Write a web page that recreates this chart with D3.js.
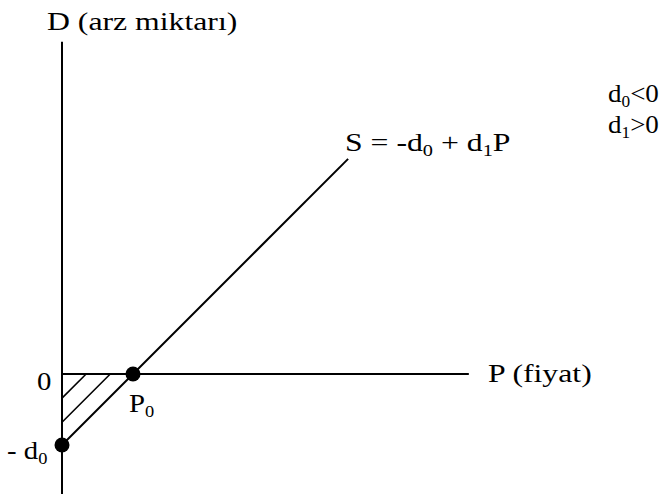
<!DOCTYPE html>
<html><head><meta charset="utf-8">
<script src="https://cdn.jsdelivr.net/npm/d3@7"></script>
<style>
html,body{margin:0;padding:0;background:#fff;}
</style></head>
<body><svg id="c" width="670" height="495"></svg>
<script>
// Data (in model units)
const d0 = -1;          // intercept value -d0 on the D axis
const d1 = 1;           // slope
const P0 = 1;           // price where supply is zero
const pAxis = [0, 5.73];
const dAxis = [-1.69, 4.68];
const sLineP = [0, 4.03];
const hatchOffsets = [0.34, 0.68];
const labels = {yTitle:"D (arz miktarı)", xTitle:"P (fiyat)", zero:"0"};

const svg = d3.select("#c");
const x = d3.scaleLinear().domain([0, 1]).range([62, 133]);
const y = d3.scaleLinear().domain([0, 1]).range([374, 303]);
const S = p => d0 + d1 * p;
const line = d3.line().x(d => x(d[0])).y(d => y(d[1]));

// axes
svg.append("path").attr("d", line([[0, dAxis[0]], [0, dAxis[1]]]))
  .attr("stroke", "#000").attr("stroke-width", 2).attr("fill", "none");
svg.append("path").attr("d", line([[pAxis[0], 0], [pAxis[1], 0]]))
  .attr("stroke", "#000").attr("stroke-width", 2).attr("fill", "none");

// hatch
hatchOffsets.forEach(h => {
  svg.append("path").attr("d", line([[0, -h], [h, 0]]))
    .attr("stroke", "#000").attr("stroke-width", 1.6).attr("fill", "none");
});

// supply line
svg.append("path").attr("d", line(sLineP.map(p => [p, S(p)])))
  .attr("stroke", "#000").attr("stroke-width", 2).attr("fill", "none");

// points
[[0, d0], [P0, 0]].forEach(pt => {
  svg.append("circle").attr("cx", x(pt[0])).attr("cy", y(pt[1])).attr("r", 7.5).attr("fill", "#000");
});

const FONT = "'Liberation Serif', 'Times New Roman', Tinos, 'DejaVu Serif', serif";
const fs = 25, sub = 16;
function txt(xp, yp, parts, sx = 1.27) {
  const t = svg.append("text")
    .attr("transform", `translate(${xp},${yp}) scale(${sx},1)`)
    .attr("font-family", FONT).attr("font-size", fs).attr("fill", "#000");
  let down = false;
  parts.forEach(p => {
    const isSub = typeof p !== "string";
    const s = isSub ? p.s : p;
    const ts = t.append("tspan").text(s);
    if (isSub) { ts.attr("font-size", sub); if (!down) { ts.attr("dy", 5); down = true; } }
    else if (down) { ts.attr("dy", -5); down = false; }
  });
  return t;
}
txt(47, 30, [labels.yTitle]);
txt(488, 382, [labels.xTitle]);
txt(37, 390, [labels.zero], 1.15);
txt(x(P0) - 4, 412, ["P", {s:"0"}], 1.15);
txt(7, 459, ["- d", {s:"0"}], 1.15);
txt(345, 151, ["S = -d", {s:"0"}, " + d", {s:"1"}, "P"]);
txt(608, 102, ["d", {s:"0"}, "<0"], 1.08);
txt(608, 133, ["d", {s:"1"}, ">0"], 1.08);
</script></body></html>
